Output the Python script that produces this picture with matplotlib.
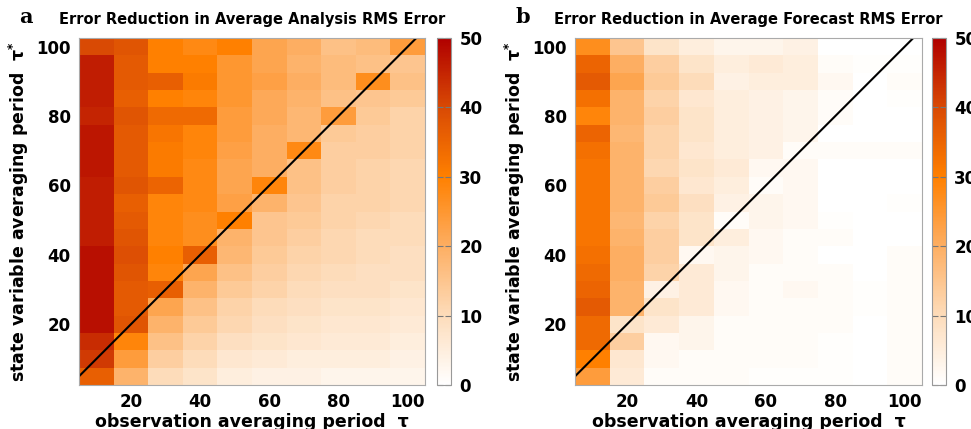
import numpy as np
import matplotlib
matplotlib.use("Agg")
import matplotlib.pyplot as plt
from matplotlib.colors import LinearSegmentedColormap

obs_tau = [10, 20, 30, 40, 50, 60, 70, 80, 90, 100]
state_tau = [100, 95, 90, 85, 80, 75, 70, 65, 60, 55, 50, 45, 40, 35, 30, 25, 20, 15, 10, 5]

# rows: state_tau from 100 (top) to 5 (bottom); columns: obs_tau 10..100
analysis_rows = [
    [40, 38, 30, 28, 30, 22, 20, 16, 17, 24],
    [46, 37, 30, 30, 25, 22, 19, 17, 16, 15],
    [46, 37, 36, 31, 25, 23, 20, 17, 27, 16],
    [46, 36, 30, 29, 25, 21, 19, 16, 15, 14],
    [45, 38, 34, 34, 24, 21, 18, 24, 14, 12],
    [47, 37, 32, 29, 24, 20, 18, 14, 13, 12],
    [47, 37, 31, 29, 23, 20, 28, 13, 13, 12],
    [47, 37, 31, 28, 22, 20, 16, 13, 12, 11],
    [46, 38, 35, 28, 22, 29, 16, 13, 12, 11],
    [46, 36, 29, 28, 23, 19, 15, 12, 12, 11],
    [46, 37, 29, 27, 30, 15, 14, 12, 11, 10],
    [46, 38, 29, 27, 19, 15, 13, 11, 10, 10],
    [48, 39, 30, 36, 18, 14, 12, 11, 10, 9],
    [48, 38, 29, 22, 16, 13, 11, 10, 9, 9],
    [48, 37, 36, 19, 14, 12, 10, 9, 9, 8],
    [48, 37, 22, 16, 12, 10, 9, 8, 8, 7],
    [48, 38, 19, 14, 11, 9, 8, 7, 7, 6],
    [44, 29, 16, 12, 9, 8, 7, 6, 6, 5],
    [42, 24, 13, 10, 7, 6, 5, 5, 5, 4],
    [36, 19, 10, 8, 5, 4, 4, 3, 3, 3],
]

forecast_rows = [
    [27, 15, 8, 5, 3, 3, 4, 0, 0, 0],
    [35, 20, 13, 8, 5, 6, 5, 1, 0.5, 0.5],
    [37, 22, 14, 10, 4, 5, 5, 2, 0, 1],
    [33, 19, 12, 7, 5, 4, 3, 1, 0, 0.5],
    [29, 19, 13, 8, 5, 4, 3, 1, 0, 0],
    [35, 18, 12, 8, 5, 4, 3, 0, 0, 0],
    [33, 19, 12, 7, 5, 4, 1, 1, 1, 1],
    [32, 19, 11, 8, 6, 2, 2, 0, 0, 0],
    [32, 19, 13, 7, 5, 1, 2, 0, 0, 0],
    [32, 19, 14, 9, 4, 3, 2, 0, 0, 0.5],
    [32, 18, 12, 8, 1, 3, 2, 0.5, 0, 0],
    [32, 19, 13, 8, 5, 2, 1, 1, 0, 0],
    [33, 20, 13, 2, 3, 2, 1, 0, 0, 1],
    [34, 20, 12, 6, 3, 1, 1, 1, 0, 1],
    [35, 19, 4, 6, 2, 1, 2, 1, 0.5, 1],
    [37, 19, 8, 6, 2, 1, 1, 1, 0.5, 1],
    [34, 8, 6, 3, 1, 1, 1, 1, 0, 1],
    [34, 13, 2, 3, 1, 1, 1, 0.5, 0, 1],
    [30, 7, 2, 1, 1, 1, 1, 0.5, 0, 1],
    [24, 6, 1, 1, 1, 0.5, 0.5, 0.5, 0, 1],
]

titles = ["Error Reduction in Average Analysis RMS Error",
          "Error Reduction in Average Forecast RMS Error"]
panel_letters = ["a", "b"]
ticks = [20, 40, 60, 80, 100]
cbar_ticks = [0, 10, 20, 30, 40, 50]

cmap = LinearSegmentedColormap.from_list(
    "orng",
    [(0.0, "#ffffff"), (0.2, "#fddcba"), (0.4, "#fdae62"),
     (0.6, "#ff8000"), (0.8, "#d94a04"), (1.0, "#b00000")])

fig = plt.figure(figsize=(9.71, 4.29), dpi=100)
W, H = 971, 429
axes_px = [(79, 425), (575, 922)]
cbar_px = [(437, 451), (932, 946)]
top, bottom = 38, 385

x_edges = np.arange(5, 106, 10)
y_edges = np.arange(2.5, 103, 5)

for i, rows in enumerate([analysis_rows, forecast_rows]):
    Z = np.array(rows, dtype=float)[::-1]  # bottom row first
    l, r = axes_px[i]
    ax = fig.add_axes([l / W, 1 - bottom / H, (r - l) / W, (bottom - top) / H])
    mesh = ax.pcolormesh(x_edges, y_edges, Z, cmap=cmap, vmin=0, vmax=50,
                         shading="flat")
    ax.plot([5, 102.5], [5, 102.5], color="black", lw=1.5)
    ax.set_xlim(5, 105)
    ax.set_ylim(2.5, 102.5)
    ax.set_xticks(ticks)
    ax.set_yticks(ticks)
    ax.tick_params(length=0, labelsize=12, pad=6)
    for lab in ax.get_xticklabels() + ax.get_yticklabels():
        lab.set_fontweight("bold")
    for s in ax.spines.values():
        s.set_color("#aaaaaa")
    ax.set_xlabel("observation averaging period  τ", fontsize=12.5,
                  fontweight="bold", labelpad=1)
    ax.set_ylabel("state variable averaging period  τ$^{\\mathbf{*}}$", fontsize=12.5,
                  fontweight="bold", labelpad=4)
    ax.set_title(titles[i], fontsize=10.5, fontweight="bold", pad=10)
    fig.text((l - 60) / W, 1 - 17 / H, panel_letters[i], fontsize=15,
             fontweight="bold", family="DejaVu Serif", va="center")

    cl, cr = cbar_px[i]
    cax = fig.add_axes([cl / W, 1 - bottom / H, (cr - cl) / W, (bottom - top) / H])
    cb = fig.colorbar(mesh, cax=cax, ticks=cbar_ticks)
    cb.outline.set_edgecolor("#999999")
    cax.tick_params(direction="in", length=4, color="#777777", labelsize=12,
                    left=True, right=True, pad=6)
    for lab in cax.get_yticklabels():
        lab.set_fontweight("bold")

fig.savefig("out.png", dpi=100)
